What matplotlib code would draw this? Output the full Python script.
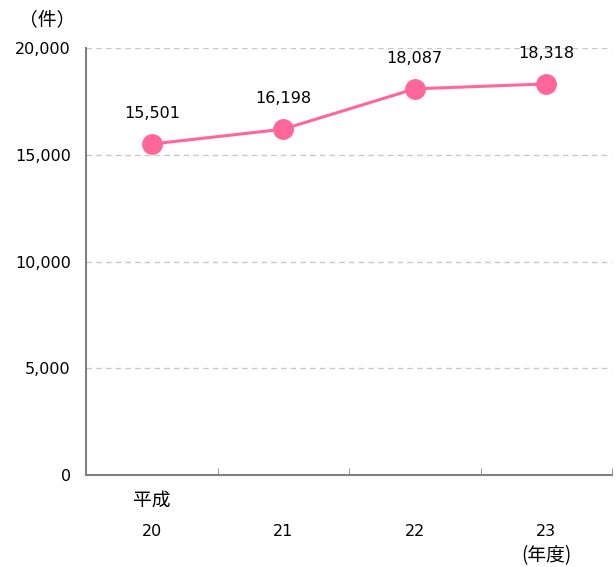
import numpy as np
import matplotlib.pyplot as plt

plt.rcParams['font.family'] = ['DejaVu Sans', 'Noto Sans CJK JP']

years = ['20', '21', '22', '23']
counts = [15501, 16198, 18087, 18318]
yticks = [0, 5000, 10000, 15000, 20000]

pink = '#FF6699'
grey = '#808080'
fs = 11.5
fs_jp = 13.5

fig = plt.figure(figsize=(6.16, 5.67), dpi=100)
ax = fig.add_axes([86/616, 92/567, 526/616, 427/567])

x = np.arange(len(years))
ax.plot(x, counts, color=pink, lw=2.2, marker='o', ms=14, zorder=3)
for xi, v in zip(x, counts):
    ax.annotate(f'{v:,}', (xi, v), xytext=(0, 22), textcoords='offset points',
                ha='center', va='center', fontsize=fs)

ax.set_xlim(-0.5, len(years) - 0.5)
ax.set_ylim(0, 20000)
ax.set_yticks(yticks)
ax.set_yticklabels([f'{t:,}' for t in yticks], fontsize=fs)
ax.tick_params(axis='y', length=0, pad=11)
ax.set_xticks(x)
ax.set_xticklabels(years, fontsize=fs)
ax.tick_params(axis='x', which='major', length=0, pad=35)
ax.set_xticks(np.arange(-0.5, len(years)), minor=True)
ax.tick_params(axis='x', which='minor', direction='in', length=5, color=grey)

ax.grid(axis='y', ls=(0, (4, 3)), color='#C8C8C8', lw=1)
ax.set_axisbelow(True)
for s in ['top', 'right']:
    ax.spines[s].set_visible(False)
for s in ['left', 'bottom']:
    ax.spines[s].set_color(grey)
    ax.spines[s].set_linewidth(1.5)

ax.annotate('平成', (0, 0), xytext=(0, -18), textcoords='offset points',
            xycoords=('data', 'axes fraction'), ha='center', va='center',
            fontsize=fs_jp, family=['Noto Sans CJK JP'])
ax.annotate('(年度)', (3, 0), xytext=(0, -58), textcoords='offset points',
            xycoords=('data', 'axes fraction'), ha='center', va='center',
            fontsize=fs_jp, family=['Noto Sans CJK JP'])
fig.text(47/616, 1 - 20/567, '（件）', ha='center', va='center',
         fontsize=fs_jp, family=['Noto Sans CJK JP'])

fig.savefig('out.png', dpi=100)
